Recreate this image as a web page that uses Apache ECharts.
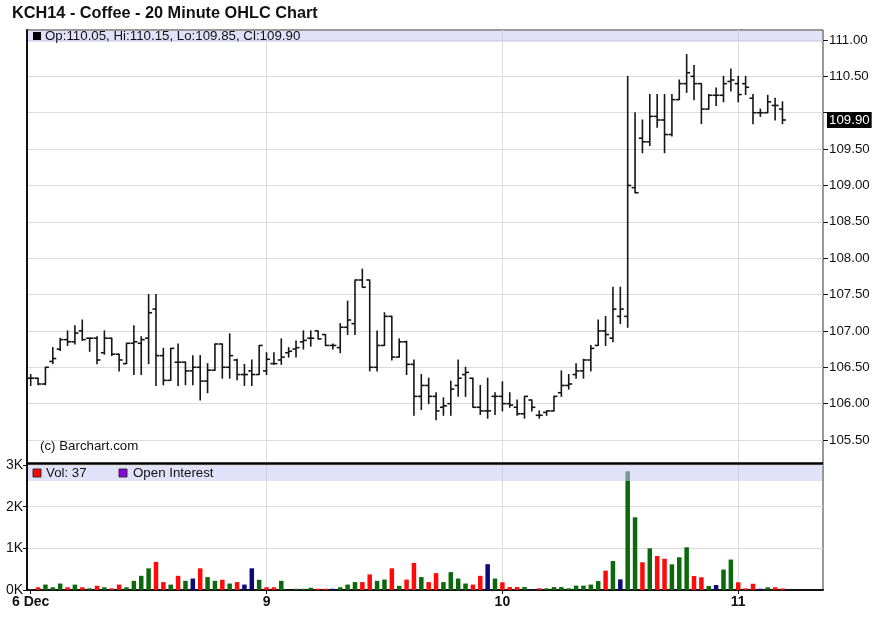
<!DOCTYPE html>
<html><head><meta charset="utf-8">
<script src="https://cdn.jsdelivr.net/npm/echarts@6/dist/echarts.min.js"></script>
<style>html,body{margin:0;padding:0;background:#fff}#c{width:876px;height:641px}</style>
</head><body><div id="c"></div>
<script>
// ---- data (20-minute bars, index 0 = first bar of 6 Dec) ----
var tickIdx = [0, 32, 64, 96];
var tickLabels = ['6 Dec', '9', '10', '11'];
var dayLineIdx = [32, 64, 96];

var opens = [106.35,106.35,106.27,106.58,106.75,106.88,106.85,107.00,106.90,106.90,106.70,106.90,106.68,106.55,106.83,106.83,106.90,107.30,106.66,106.32,106.57,106.57,106.45,106.50,106.31,106.46,106.82,106.50,106.60,106.40,106.45,106.40,
 106.45,106.55,106.60,106.70,106.75,106.85,106.90,107.00,106.95,106.80,106.77,107.05,107.10,107.70,107.70,106.50,106.80,107.20,106.64,106.85,106.54,106.10,106.25,106.10,105.95,106.00,106.25,106.40,106.35,105.95,105.90,106.10,
 106.10,106.00,105.95,105.86,106.05,105.84,105.88,105.90,106.15,106.25,106.40,106.45,106.60,106.80,107.00,106.90,107.20,107.20,108.97,109.65,109.60,109.95,109.90,109.70,110.18,110.40,110.50,110.40,110.05,110.24,110.24,110.43,
 110.40,110.40,110.20,110.00,110.00,110.10,110.05];
var highs = [106.40,106.35,106.50,106.77,106.90,107.00,107.07,107.15,106.90,106.92,107.00,106.90,106.68,106.83,107.07,106.92,107.50,107.50,106.76,106.76,106.82,106.57,106.66,106.66,106.55,106.82,106.82,106.96,106.61,106.54,106.60,106.80,
 106.70,106.70,106.89,106.77,106.86,107.00,107.00,107.00,106.95,106.82,107.10,107.41,107.70,107.85,107.70,107.00,107.25,107.20,106.89,106.86,106.60,106.40,106.35,106.15,106.08,106.31,106.60,106.50,106.35,106.25,106.35,106.15,
 106.30,106.15,106.05,106.10,106.05,105.90,105.90,106.10,106.45,106.40,106.55,106.61,106.80,107.15,107.20,107.60,107.60,110.50,110.00,109.90,110.25,110.25,110.25,110.25,110.45,110.80,110.65,110.40,110.25,110.34,110.50,110.60,
 110.50,110.50,110.25,110.05,110.24,110.20,110.15];
var lows = [106.25,106.26,106.26,106.55,106.73,106.80,106.82,106.87,106.72,106.55,106.68,106.66,106.45,106.55,106.40,106.40,106.55,106.25,106.26,106.32,106.25,106.26,106.26,106.05,106.15,106.46,106.35,106.35,106.33,106.25,106.25,106.40,
 106.40,106.54,106.54,106.64,106.64,106.75,106.79,106.89,106.80,106.75,106.70,106.95,106.95,107.60,106.45,106.45,106.80,106.60,106.64,106.40,105.84,105.92,106.00,105.78,105.84,105.84,106.10,106.10,105.95,105.85,105.80,105.85,
 105.90,105.95,105.84,105.80,105.90,105.80,105.84,105.90,106.10,106.20,106.35,106.35,106.45,106.80,106.80,106.85,107.10,107.05,108.90,109.45,109.55,109.80,109.45,109.68,110.18,110.28,110.18,109.85,110.05,110.10,110.15,110.30,
 110.15,110.25,109.85,109.95,110.00,109.90,109.85];
var closes = [106.35,106.27,106.50,106.62,106.88,106.85,106.97,106.88,106.90,106.60,106.90,106.68,106.60,106.83,106.85,106.88,107.25,106.66,106.32,106.76,106.57,106.45,106.50,106.31,106.46,106.82,106.50,106.66,106.40,106.40,106.40,106.80,
 106.61,106.55,106.64,106.72,106.77,106.87,106.90,106.89,106.80,106.80,107.05,107.15,107.70,107.60,106.50,106.80,107.20,106.64,106.85,106.54,106.10,106.25,106.10,105.90,105.97,106.20,106.35,106.43,105.95,105.90,105.90,106.10,
 106.00,105.98,105.86,106.10,105.95,105.84,105.90,106.10,106.25,106.27,106.45,106.60,106.76,107.00,106.95,107.30,107.30,109.00,108.90,109.60,109.95,109.90,109.70,110.18,110.40,110.55,110.40,110.05,110.24,110.24,110.40,110.45,
 110.25,110.35,110.00,110.00,110.15,110.10,109.90];
var volumes = [10,65,130,65,155,65,130,65,40,100,65,40,130,65,220,340,520,675,190,130,340,220,275,520,310,220,245,155,190,130,520,245,
 65,65,220,0,30,30,55,30,30,30,65,130,190,190,375,220,250,520,100,250,650,310,190,405,190,430,275,155,130,340,620,275,
 185,70,70,70,0,40,40,70,70,40,105,105,130,215,465,695,255,2850,1745,665,1000,815,750,615,785,1025,335,305,95,120,490,730,
 185,40,150,30,65,65,37];
// volume bar colour per bar: u = up (green), d = down (red), n = unchanged (navy)
var volDirDay1 = 'uduuudud' + 'ududduuu' + 'uddudund' + 'uududnnu';
var volDirDay2 = 'dduuuuud' + 'dnuuuddu' + 'ududdudd' + 'uuuuddnu';
var volDirDay3 = 'ddduuduu' + 'uuuuuudu' + 'nuududdu' + 'uuddunuu';
var volDirDay4 = 'dddnudd';
</script>
<script>
var volColors = { u: '#0b690b', d: '#ff0a0a', n: '#0a0a78' };
var dirs = (volDirDay1 + volDirDay2 + volDirDay3 + volDirDay4).split('');
var N = opens.length;
var ohlc = [], vols = [];
for (var i = 0; i < N; i++) {
  ohlc.push([i, opens[i], highs[i], lows[i], closes[i]]);
  vols.push({ value: [i, volumes[i]], itemStyle: { color: volColors[dirs[i] || 'u'] } });
}
var last = N - 1;
var FONT = "'Liberation Sans', Arial, sans-serif";
var FS = 13.3;
var L = 27, R = 53;
var XMIN = -0.5, XMAX = 107.5;
var chart = echarts.init(document.getElementById('c'), null, { renderer: 'canvas' });
function xb(extra) { return Object.assign({ type: 'value', min: XMIN, max: XMAX }, extra); }
function fmtK(v) { return (v / 1000) + 'K'; }

chart.setOption({
  animation: false,
  backgroundColor: '#fff',
  title: { text: 'KCH14 - Coffee - 20 Minute OHLC Chart', left: 7, top: 1,
    textStyle: { fontSize: 16.3, fontWeight: 'bold', color: '#111', fontFamily: FONT } },
  grid: [
    { left: L, right: R, top: 30, height: 560, show: true, borderColor: '#333', borderWidth: 1 },
    { left: L, right: R, top: 40, height: 400 },
    { left: L, right: R, top: 465, height: 125 }
  ],
  xAxis: [
    xb({ gridIndex: 0, axisLine: { show: false },
      axisTick: { show: false, customValues: dayLineIdx }, axisLabel: { show: false },
      splitLine: { show: true, lineStyle: { color: '#dcdcdc', width: 1 } } }),
    xb({ gridIndex: 1, show: false, splitLine: { show: false } }),
    xb({ gridIndex: 2,
      axisLine: { show: true, onZero: false, lineStyle: { color: '#111', width: 2 } },
      axisTick: { show: true, customValues: tickIdx, length: 4, lineStyle: { color: '#111' } },
      axisLabel: { customValues: tickIdx, margin: 5, fontSize: 14, fontWeight: 'bold', color: '#111', fontFamily: FONT,
        formatter: function (v) { var k = tickIdx.indexOf(Math.round(v)); return k >= 0 ? tickLabels[k] : ''; } },
      splitLine: { show: false } })
  ],
  yAxis: [
    { gridIndex: 0, type: 'value', min: 0, max: 1, axisLabel: { show: false }, axisTick: { show: false },
      splitLine: { show: false }, axisLine: { show: true, onZero: false, lineStyle: { color: '#111', width: 2 } } },
    { gridIndex: 1, type: 'value', position: 'right', min: 105.5, max: 111, interval: 0.5,
      axisLine: { show: false, onZero: false },
      axisTick: { show: true, length: 5, lineStyle: { color: '#111' } },
      axisLabel: { margin: 6, fontSize: FS, color: '#111', fontFamily: FONT,
        formatter: function (v) { return Math.abs(v - 110) < 1e-6 ? '' : v.toFixed(2); } },
      splitLine: { show: true, lineStyle: { color: '#dcdcdc', width: 1 } } },
    { gridIndex: 2, type: 'value', min: 0, max: 3000, interval: 1000,
      axisLine: { show: true, onZero: false, lineStyle: { color: '#111', width: 2 } },
      axisTick: { show: true, length: 4, lineStyle: { color: '#111' } },
      axisLabel: { margin: 4, fontSize: 14, color: '#111', fontFamily: FONT, formatter: fmtK },
      splitLine: { show: true, lineStyle: { color: '#dcdcdc', width: 1 } } }
  ],
  series: [
    { type: 'custom', xAxisIndex: 1, yAxisIndex: 1, data: ohlc, encode: { x: 0, y: [1, 2, 3, 4] },
      renderItem: function (params, api) {
        var x = api.value(0);
        var o = api.coord([x, api.value(1)]);
        var h = api.coord([x, api.value(2)]);
        var l = api.coord([x, api.value(3)]);
        var c = api.coord([x, api.value(4)]);
        var t = 3.5, st = { stroke: '#151515', lineWidth: 1.6 };
        return { type: 'group', children: [
          { type: 'line', shape: { x1: h[0], y1: h[1] - 0.5, x2: l[0], y2: l[1] + 0.5 }, style: st },
          { type: 'line', shape: { x1: o[0] - t, y1: o[1], x2: o[0], y2: o[1] }, style: st },
          { type: 'line', shape: { x1: c[0], y1: c[1], x2: c[0] + t, y2: c[1] }, style: st }
        ] };
      }
    },
    { type: 'scatter', xAxisIndex: 1, yAxisIndex: 1, clip: false, silent: true, symbolSize: 2, z: 10,
      itemStyle: { color: 'rgba(0,0,0,0)', opacity: 1 },
      data: [[XMAX, closes[last]]],
      label: { show: true, position: 'right', distance: 3, formatter: closes[last].toFixed(2), opacity: 1,
        backgroundColor: '#000000', color: '#ffffff', padding: [2, 2, 1, 2], fontSize: FS, fontFamily: FONT } },
    { type: 'bar', xAxisIndex: 2, yAxisIndex: 2, data: vols, barWidth: 4.5 }
  ],
  graphic: [
    { type: 'rect', z: 100, shape: { x: 28, y: 31, width: 794, height: 11 }, style: { fill: 'rgba(200,200,245,0.55)' } },
    { type: 'rect', z: 101, shape: { x: 33, y: 32, width: 8, height: 8 }, style: { fill: '#000' } },
    { type: 'text', z: 101, x: 45, y: 29.5, style: { text: 'Op:' + opens[last].toFixed(2) + ', Hi:' + highs[last].toFixed(2) + ', Lo:' + lows[last].toFixed(2) + ', Cl:' + closes[last].toFixed(2),
      fontSize: FS, fontFamily: FONT, fill: '#111' } },
    { type: 'text', z: 101, x: 40, y: 440, style: { text: '(c) Barchart.com', fontSize: FS, fontFamily: FONT, fill: '#111' } },
    { type: 'line', z: 100, shape: { x1: 27, y1: 463.5, x2: 823, y2: 463.5 }, style: { stroke: '#000', lineWidth: 2.5 } },
    { type: 'rect', z: 100, shape: { x: 28, y: 466, width: 794, height: 15 }, style: { fill: 'rgba(200,200,245,0.55)' } },
    { type: 'rect', z: 101, shape: { x: 33, y: 469, width: 8, height: 8 }, style: { fill: '#ff0000', stroke: '#333', lineWidth: 1 } },
    { type: 'text', z: 101, x: 46, y: 466.5, style: { text: 'Vol: ' + volumes[last], fontSize: FS, fontFamily: FONT, fill: '#111' } },
    { type: 'rect', z: 101, shape: { x: 119, y: 469, width: 8, height: 8 }, style: { fill: '#8a00e6', stroke: '#333', lineWidth: 1 } },
    { type: 'text', z: 101, x: 133, y: 466.5, style: { text: 'Open Interest', fontSize: FS, fontFamily: FONT, fill: '#111' } }
  ]
});
</script>
</body></html>
